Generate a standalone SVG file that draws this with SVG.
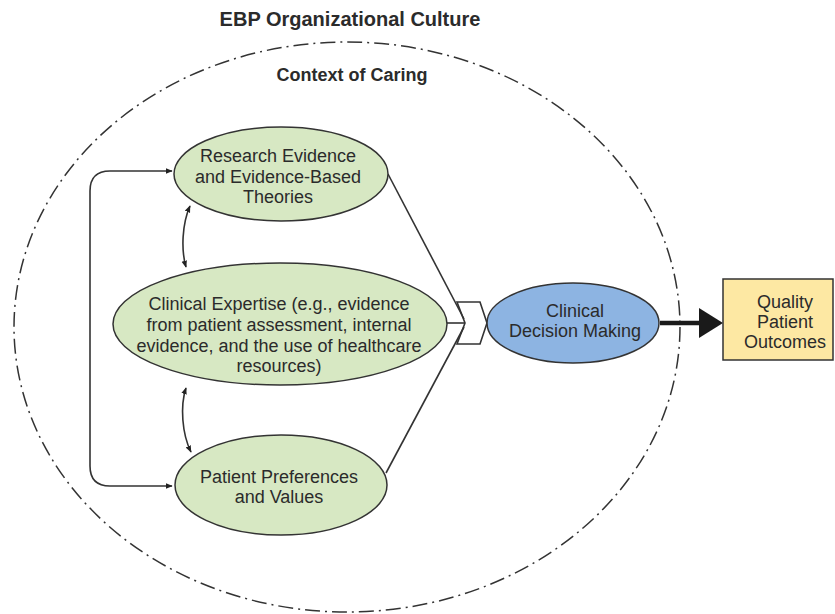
<svg xmlns="http://www.w3.org/2000/svg" width="835" height="614" viewBox="0 0 835 614">
<style>
.t{font-family:"Liberation Sans",Arial,sans-serif;fill:#2b2b2b;text-anchor:middle}
.b{font-weight:bold}
.n{font-size:18px}
.green{fill:#d7e8c3;stroke:#333;stroke-width:1.5}
.ln{fill:none;stroke:#333;stroke-width:1.6}
</style>
<defs>
<marker id="ah" viewBox="0 0 10 10" refX="9" refY="5" markerWidth="7" markerHeight="7" markerUnits="userSpaceOnUse" orient="auto-start-reverse">
<path d="M0,1 L10,5 L0,9 Z" fill="#222"/>
</marker>
</defs>
<rect width="835" height="614" fill="#fff"/>
<g id="culture">
<ellipse cx="347" cy="327" rx="333" ry="285" fill="none" stroke="#333" stroke-width="1.5" stroke-dasharray="15 5 2 5"/>
<text class="t b" x="350" y="26" font-size="20">EBP Organizational Culture</text>
<text class="t b" x="352" y="81" font-size="18">Context of Caring</text>
</g>
<g id="connectors">
<path class="ln" d="M172 171 H110 Q90 171 90 191 V466 Q90 486 110 486 H172" marker-start="url(#ah)" marker-end="url(#ah)"/>
<path class="ln" d="M190 206 C182 224 181 250 186 267" marker-start="url(#ah)" marker-end="url(#ah)"/>
<path class="ln" d="M186 388 C180 406 182 434 191 452" marker-start="url(#ah)" marker-end="url(#ah)"/>
<path class="ln" d="M388 174 L464 319"/>
<path class="ln" d="M386 473 L464 327"/>
<path class="ln" d="M446 323 H465"/>
<polygon class="ln" points="457,302 480,302 487,323 480,344 457,344 465,323"/>
<line x1="660" y1="323" x2="702" y2="323" stroke="#1a1a1a" stroke-width="4.5"/>
<polygon points="699,308 723,323 699,338" fill="#1a1a1a"/>
</g>
<g id="research">
<ellipse class="green" cx="281" cy="174" rx="107" ry="47"/>
<text class="t n" x="278" y="162">Research Evidence</text>
<text class="t n" x="278" y="183">and Evidence-Based</text>
<text class="t n" x="278" y="203">Theories</text>
</g>
<g id="expertise">
<ellipse class="green" cx="280" cy="324" rx="167" ry="61"/>
<text class="t n" x="279" y="310">Clinical Expertise (e.g., evidence</text>
<text class="t n" x="279" y="331">from patient assessment, internal</text>
<text class="t n" x="279" y="352">evidence, and the use of healthcare</text>
<text class="t n" x="279" y="372">resources)</text>
</g>
<g id="patient">
<ellipse class="green" cx="281" cy="485" rx="106" ry="50"/>
<text class="t n" x="279" y="483">Patient Preferences</text>
<text class="t n" x="279" y="503">and Values</text>
</g>
<g id="decision">
<ellipse cx="573" cy="323" rx="86" ry="40" fill="#8db4e2" stroke="#333" stroke-width="1.5"/>
<text class="t n" x="575" y="317">Clinical</text>
<text class="t n" x="575" y="337">Decision Making</text>
</g>
<g id="outcomes">
<rect x="723" y="279" width="110" height="81" fill="#fde8a3" stroke="#333" stroke-width="1.5"/>
<text class="t n" x="785" y="308">Quality</text>
<text class="t n" x="785" y="328">Patient</text>
<text class="t n" x="785" y="348">Outcomes</text>
</g>
</svg>
